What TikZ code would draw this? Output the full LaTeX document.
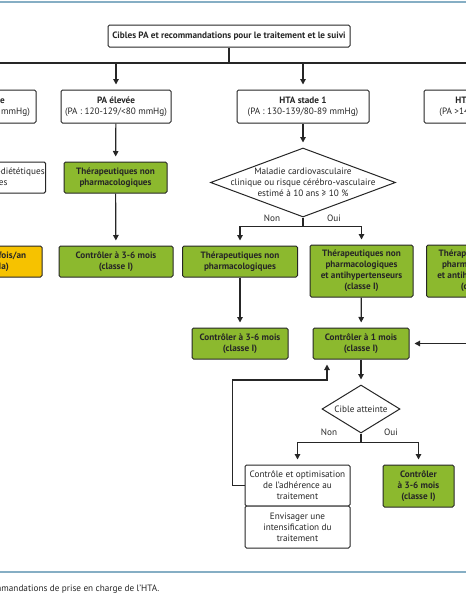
\documentclass[tikz,border=0pt]{standalone}
\usepackage{fontspec}
\setmainfont{PT Sans}
\usetikzlibrary{arrows.meta,shapes.geometric,positioning}
\definecolor{vertbox}{HTML}{8CB92E}
\definecolor{orbox}{HTML}{F6C200}
\definecolor{bleufilet}{HTML}{86AEC4}
\definecolor{trait}{HTML}{262626}
\tikzset{
  boite/.style={draw=trait, line width=1pt, rounded corners=1.5pt, align=center,
    inner sep=1pt, text=trait, font=\fontsize{9.2}{11}\selectfont},
  blanche/.style={boite, fill=white},
  verte/.style={boite, fill=vertbox, font=\fontsize{9.2}{11}\selectfont\bfseries},
  orange/.style={boite, fill=orbox, font=\fontsize{9.2}{11}\selectfont\bfseries},
  choix/.style={diamond, draw=trait, line width=1pt, fill=white, inner sep=0pt},
  etiq/.style={text=trait, font=\fontsize{9.2}{11}\selectfont, align=center},
  fleche/.style={-{Triangle[length=5.5pt,width=5.5pt]}, line width=1.2pt, draw=trait, shorten >=5pt},
  liaison/.style={line width=1.2pt, draw=trait}
}

\begin{document}
\begin{tikzpicture}[x=1pt, y=-1pt]
\useasboundingbox (0,0) rectangle (466,600);
\clip (0,0) rectangle (466,600);
% filets bleus
\draw[bleufilet, line width=1.5pt] (-10,2) -- (476,2);
\draw[bleufilet, line width=1.2pt] (-10,572) -- (476,572);

% titre et catégories
\node[boite, font=\fontsize{9.2}{11}\selectfont\bfseries, minimum width=242pt, minimum height=22pt] (titre) at (229,36)
  {Cibles PA et recommandations pour le traitement et le suivi};
\coordinate (bus) at (0,63);
\node[blanche, minimum width=96pt, minimum height=33pt] (normale) at (-12,106.5)
  {\textbf{Normale}\\(PA <120/<80 mmHg)};
\node[blanche, minimum width=110pt, minimum height=33pt] (elevee) at (116,106.5)
  {\textbf{PA élevée}\\(PA : 120-129/<80 mmHg)};
\node[blanche, minimum width=132pt, minimum height=33pt] (stade1) at (303,106.5)
  {\textbf{HTA stade 1}\\(PA : 130-139/80-89 mmHg)};
\node[blanche, minimum width=110pt, minimum height=33pt] (stade2) at (479,106.5)
  {\textbf{HTA stade 2}\\(PA >140/90 mmHg)};

% deuxième rangée
\node[blanche, minimum width=108pt, minimum height=31pt] (mesures) at (-12,177.5)
  {Mesures hygiéno-diététiques\\optimales};
\node[verte, minimum width=103pt, minimum height=31pt] (nonpharmA) at (115.5,177.5)
  {Thérapeutiques non\\pharmacologiques};
\node[choix, minimum width=185pt, minimum height=69pt,
  label={[etiq]center:{Maladie cardiovasculaire\\clinique ou risque cérébro-vasculaire\\estimé à 10 ans ≥ 10 \%}}] (mcv) at (303,182.5) {};

% troisième rangée
\node[orange, minimum width=108pt, minimum height=31pt] (reeval) at (-12,261.5)
  {Réévaluer 1 fois/an\\(classe IIa)};
\node[verte, minimum width=114pt, minimum height=31pt] (ctrlA) at (116,261.5)
  {Contrôler à 3-6 mois\\(classe I)};
\node[verte, minimum width=115pt, minimum height=31pt] (nonpharmB) at (240,261.5)
  {Thérapeutiques non\\pharmacologiques};
\node[verte, minimum width=103pt, minimum height=52pt] (antihtaB) at (361.5,271)
  {Thérapeutiques non\\pharmacologiques\\et antihypertenseurs\\(classe I)};
\node[verte, minimum width=103pt, minimum height=52pt] (antihtaC) at (478,271)
  {Thérapeutiques non\\pharmacologiques\\et antihypertenseurs\\(classe I)};

% contrôles
\node[verte, minimum width=96pt, minimum height=31pt] (ctrlB) at (240,343.5)
  {Contrôler à 3-6 mois\\(classe I)};
\node[verte, minimum width=96pt, minimum height=31pt] (ctrlC) at (361,343.5)
  {Contrôler à 1 mois\\(classe I)};
\node[choix, minimum width=78pt, minimum height=48pt,
  label={[etiq]center:Cible atteinte}] (cible) at (361,409) {};

% bas
\node[blanche, minimum width=105pt, minimum height=41pt] (adher) at (297.5,485.5)
  {Contrôle et optimisation\\de l’adhérence au\\traitement};
\node[blanche, minimum width=105pt, minimum height=42pt] (intens) at (297.5,527)
  {Envisager une\\intensification du\\traitement};
\node[verte, minimum width=71pt, minimum height=42pt] (ctrlD) at (418.5,486)
  {Contrôler\\à 3-6 mois\\(classe I)};

% étiquettes
\node[etiq] (non1) at (272,218) {Non};
\node[etiq] (oui1) at (334,218) {Oui};
\node[etiq] (non2) at (329,432) {Non};
\node[etiq] (oui2) at (391,432) {Oui};

% connecteurs
\draw[liaison] (titre.south) -- (titre.south |- bus);
\draw[liaison] (-80,63) -- (540,63);
\foreach \cat in {normale, elevee, stade1, stade2}
  \draw[fleche] (\cat.north |- bus) -- (\cat);
\draw[fleche] (normale) -- (mesures);
\draw[fleche] (mesures) -- (reeval);
\draw[fleche] (elevee) -- (nonpharmA);
\draw[fleche] (nonpharmA) -- (ctrlA);
\draw[fleche] (stade1) -- (mcv);
\draw[fleche] (mcv.south) -- ++(0,9) -| (nonpharmB);
\draw[fleche] (mcv.south) -- ++(0,9) -| (antihtaB);
\draw[fleche] (stade2) -- (antihtaC);
\draw[fleche] (nonpharmB) -- (ctrlB);
\draw[fleche] (antihtaB) -- (ctrlC);
\draw[fleche] (antihtaC.south) |- (ctrlC);
\draw[fleche] (ctrlC) -- (cible);
\draw[fleche] (cible.south) -- ++(0,9) -| (adher);
\draw[fleche] (cible.south) -- ++(0,9) -| (ctrlD);
\coordinate (retour) at (327,380);
\draw[fleche] (adher.west) -- ++(-12,0) |- (retour) -- (retour |- ctrlC.south);

% légende
\node[etiq, anchor=east] (legende) at (163,589) {Figure 2. Recommandations de prise en charge de l’HTA.};
\end{tikzpicture}
\end{document}
